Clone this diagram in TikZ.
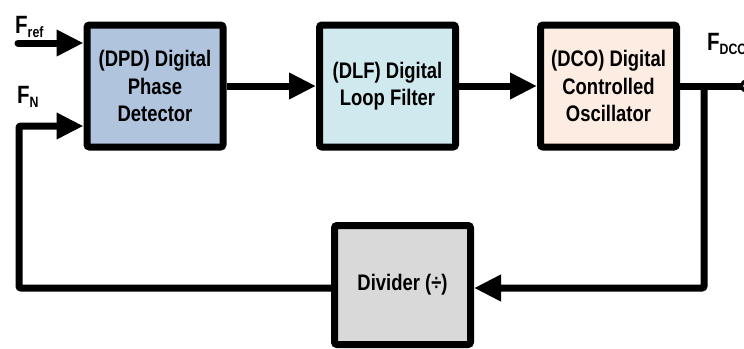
\documentclass[tikz,border=0pt]{standalone}
\usepackage{fontspec}
\newfontfamily\lbl[FakeStretch=0.82]{Liberation Sans}
\usetikzlibrary{arrows.meta,calc}

\definecolor{dpdfill}{RGB}{176,196,222}
\definecolor{dlffill}{RGB}{208,233,238}
\definecolor{dcofill}{RGB}{252,236,226}
\definecolor{divfill}{RGB}{217,217,217}

\tikzset{
  block/.style={draw=black, line width=7pt, rounded corners=2.5pt,
    minimum width=136pt, minimum height=122pt, inner sep=0pt,
    align=center, font=\lbl\bfseries\fontsize{22.5}{27.5}\selectfont},
  wire/.style={draw=black, line width=7pt, rounded corners=2pt},
  conn/.style={wire, -{Triangle[length=27pt,width=25pt]}},
  sig/.style={font=\lbl\bfseries\fontsize{25}{25}\selectfont, inner sep=0pt, anchor=base west},
}
\newcommand{\subsig}[1]{\raisebox{-4.5pt}{\fontsize{15}{15}\selectfont #1}}

\begin{document}
\begin{tikzpicture}[x=1pt,y=-1pt]
  \useasboundingbox (0,0) rectangle (744,348);

  % processing blocks
  \node[block, fill=dpdfill] (dpd) at (155,86) {(DPD) Digital\\Phase\\Detector};
  \node[block, fill=dlffill] (dlf) at (387.5,86) {(DLF) Digital\\Loop Filter};
  \node[block, fill=dcofill] (dco) at (608.5,86) {(DCO) Digital\\Controlled\\Oscillator};
  \node[block, fill=divfill, minimum height=119pt] (div) at (402.5,285) {Divider (\char"00F7)};

  % terminals and routing points
  \coordinate (fref) at (18,43);
  \coordinate (fn)   at (19,126);
  \coordinate (lc)   at (19,288);
  \coordinate (tap)  at (704,86);
  \coordinate (fb)   at (704,288);
  \coordinate (out)  at (747,86);

  % forward path
  \draw[conn, line cap=round] (fref) -- (fref -| dpd.west);
  \draw[conn] (dpd.east) -- (dlf.west);
  \draw[conn] (dlf.east) -- (dco.west);
  \draw[wire] (dco.east) -- (out);
  \draw[black, line width=3pt, fill=white] (out) circle (5.5pt);

  % feedback path
  \draw[conn] (tap) -- (fb) -- (fb -| div.east);
  \draw[conn] (fb -| div.west) -- (lc) -- (fn) -- (fn -| dpd.west);

  % signal labels
  \node[sig] (lref) at (15,33) {F\subsig{ref}};
  \node[sig] (lfn)  at (17,103) {F\subsig{N}};
  \node[sig] (ldco) at (707,50) {F\subsig{DCO}};
\end{tikzpicture}
\end{document}
